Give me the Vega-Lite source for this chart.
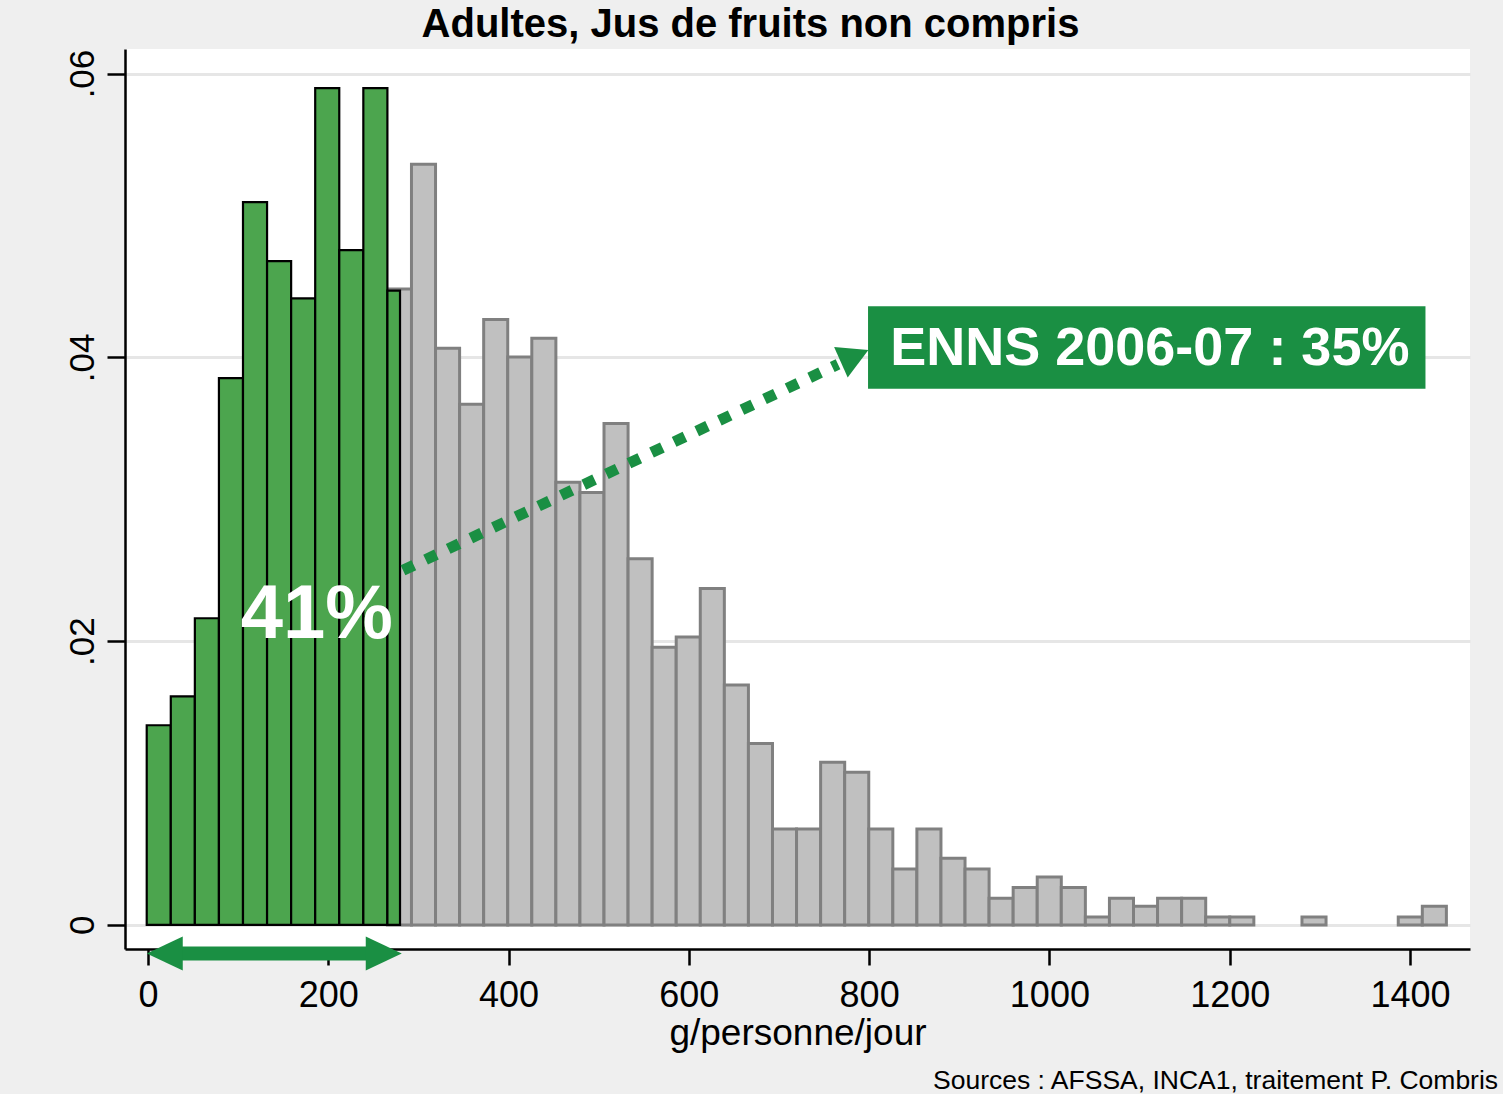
{
  "$schema": "https://vega.github.io/schema/vega-lite/v6.json",
  "width": 1345,
  "height": 900,
  "autosize": {"type": "none"},
  "padding": {"left": 125, "top": 49, "right": 33, "bottom": 145},
  "background": "#efefef",
  "config": {
    "view": {"fill": "white", "stroke": null},
    "font": "Liberation Sans"
  },
  "title": {
    "text": "Adultes, Jus de fruits non compris",
    "font": "Liberation Sans",
    "fontSize": 40,
    "fontWeight": "bold",
    "color": "black",
    "anchor": "middle",
    "frame": "group",
    "dx": -47,
    "offset": 4
  },
  "datasets": {
    "gray": [
      {"lo": 265.6, "hi": 292.3, "d": 0.04482},
      {"lo": 292.3, "hi": 319.0, "d": 0.0536},
      {"lo": 319.0, "hi": 345.7, "d": 0.04064},
      {"lo": 345.7, "hi": 372.4, "d": 0.03669},
      {"lo": 372.4, "hi": 399.1, "d": 0.04266},
      {"lo": 399.1, "hi": 425.8, "d": 0.04003},
      {"lo": 425.8, "hi": 452.5, "d": 0.04134},
      {"lo": 452.5, "hi": 479.2, "d": 0.03119},
      {"lo": 479.2, "hi": 505.9, "d": 0.03048},
      {"lo": 505.9, "hi": 532.6, "d": 0.03533},
      {"lo": 532.6, "hi": 559.3, "d": 0.02581},
      {"lo": 559.3, "hi": 586.0, "d": 0.01957},
      {"lo": 586.0, "hi": 612.7, "d": 0.02029},
      {"lo": 612.7, "hi": 639.4, "d": 0.0237},
      {"lo": 639.4, "hi": 666.1, "d": 0.01691},
      {"lo": 666.1, "hi": 692.8, "d": 0.01278},
      {"lo": 692.8, "hi": 719.5, "d": 0.00676},
      {"lo": 719.5, "hi": 746.2, "d": 0.00676},
      {"lo": 746.2, "hi": 772.9, "d": 0.01146},
      {"lo": 772.9, "hi": 799.6, "d": 0.01076},
      {"lo": 799.6, "hi": 826.3, "d": 0.00676},
      {"lo": 826.3, "hi": 853.0, "d": 0.00394},
      {"lo": 853.0, "hi": 879.7, "d": 0.00676},
      {"lo": 879.7, "hi": 906.4, "d": 0.00469},
      {"lo": 906.4, "hi": 933.1, "d": 0.00394},
      {"lo": 933.1, "hi": 959.8, "d": 0.00187},
      {"lo": 959.8, "hi": 986.5, "d": 0.00263},
      {"lo": 986.5, "hi": 1013.2, "d": 0.00338},
      {"lo": 1013.2, "hi": 1039.9, "d": 0.00263},
      {"lo": 1039.9, "hi": 1066.6, "d": 0.00056},
      {"lo": 1066.6, "hi": 1093.3, "d": 0.00187},
      {"lo": 1093.3, "hi": 1120.0, "d": 0.00131},
      {"lo": 1120.0, "hi": 1146.7, "d": 0.00187},
      {"lo": 1146.7, "hi": 1173.4, "d": 0.00187},
      {"lo": 1173.4, "hi": 1200.1, "d": 0.00056},
      {"lo": 1200.1, "hi": 1226.8, "d": 0.00056},
      {"lo": 1280.2, "hi": 1306.9, "d": 0.00056},
      {"lo": 1387.0, "hi": 1413.7, "d": 0.00056},
      {"lo": 1413.7, "hi": 1440.4, "d": 0.00131}
    ],
    "green": [
      {"lo": -1.4, "hi": 25.3, "d": 0.01407},
      {"lo": 25.3, "hi": 52.0, "d": 0.01611},
      {"lo": 52.0, "hi": 78.7, "d": 0.02161},
      {"lo": 78.7, "hi": 105.4, "d": 0.03853},
      {"lo": 105.4, "hi": 132.1, "d": 0.05094},
      {"lo": 132.1, "hi": 158.8, "d": 0.04678},
      {"lo": 158.8, "hi": 185.5, "d": 0.04416},
      {"lo": 185.5, "hi": 212.2, "d": 0.05897},
      {"lo": 212.2, "hi": 238.9, "d": 0.04755},
      {"lo": 238.9, "hi": 265.6, "d": 0.05897},
      {"lo": 265.6, "hi": 279.6, "d": 0.0447}
    ]
  },
  "layer": [
    {
      "data": {"name": "gray"},
      "mark": {"type": "bar", "fill": "#c0c0c0", "stroke": "#808080", "strokeWidth": 3},
      "encoding": {
        "x": {
          "field": "lo", "type": "quantitative",
          "scale": {"domain": [-25.5, 1466.6], "nice": false, "zero": false},
          "axis": {
            "values": [0, 200, 400, 600, 800, 1000, 1200, 1400],
            "format": "d",
            "title": "g/personne/jour",
            "titleFont": "Liberation Sans",
            "titleFontSize": 37,
            "titleFontWeight": "normal",
            "titleColor": "black",
            "titlePadding": 2,
            "labelFont": "Liberation Sans",
            "labelFontSize": 36,
            "labelColor": "black",
            "labelPadding": 13,
            "labelFlush": false,
            "labelOverlap": false,
            "tickSize": 16,
            "tickWidth": 2.5,
            "tickColor": "black",
            "domainColor": "black",
            "domainWidth": 2.5,
            "grid": false
          }
        },
        "x2": {"field": "hi"},
        "y": {
          "field": "d", "type": "quantitative", "stack": null,
          "scale": {"domain": [-0.0017, 0.06173], "nice": false, "zero": false},
          "axis": {
            "values": [0, 0.02, 0.04, 0.06],
            "labelExpr": "datum.value == 0 ? '0' : replace(format(datum.value, '.2f'), '0.', '.')",
            "title": null,
            "labelFont": "Liberation Sans",
            "labelFontSize": 35,
            "labelColor": "black",
            "labelAngle": -90,
            "labelAlign": "center",
            "labelBaseline": "alphabetic",
            "labelPadding": 14,
            "labelFlush": false,
            "labelOverlap": false,
            "tickSize": 18,
            "tickWidth": 2.5,
            "tickColor": "black",
            "domainColor": "black",
            "domainWidth": 2.5,
            "grid": true,
            "gridColor": "#e6e6e6",
            "gridWidth": 3
          }
        },
        "y2": {"datum": 0}
      }
    },
    {
      "data": {"name": "green"},
      "mark": {"type": "bar", "fill": "#4ca54e", "stroke": "black", "strokeWidth": 2.2},
      "encoding": {
        "x": {"field": "lo", "type": "quantitative"},
        "x2": {"field": "hi"},
        "y": {"field": "d", "type": "quantitative", "stack": null},
        "y2": {"datum": 0}
      }
    },
    {
      "data": {"values": [{"x": 187.2, "y": 0.02025, "t": "41%"}]},
      "mark": {"type": "text", "font": "Liberation Sans", "fontSize": 76, "fontWeight": "bold", "color": "white", "align": "center", "baseline": "alphabetic"},
      "encoding": {
        "x": {"field": "x", "type": "quantitative"},
        "y": {"field": "y", "type": "quantitative"},
        "text": {"field": "t"}
      }
    },
    {
      "data": {"values": [{"x": 282.9, "y": 0.02499, "x2": 765.5, "y2": 0.03951}]},
      "mark": {"type": "rule", "color": "#1a8f43", "strokeWidth": 11, "strokeDash": [12, 13], "strokeCap": "butt"},
      "encoding": {
        "x": {"field": "x", "type": "quantitative"},
        "y": {"field": "y", "type": "quantitative"},
        "x2": {"field": "x2"},
        "y2": {"field": "y2"}
      }
    },
    {
      "data": {"values": [{"x": 768.7, "y": 0.03966}]},
      "mark": {"type": "point", "shape": "M0,-1L1.8,0L0,1Z", "angle": 336, "size": 1116, "filled": true, "color": "#1a8f43", "opacity": 1, "strokeWidth": 0},
      "encoding": {
        "x": {"field": "x", "type": "quantitative"},
        "y": {"field": "y", "type": "quantitative"}
      }
    },
    {
      "data": {"values": [{"x": 798.8, "x2": 1417.2, "y": 0.0436, "y2": 0.03779}]},
      "mark": {"type": "rect", "color": "#1a8f43"},
      "encoding": {
        "x": {"field": "x", "type": "quantitative"},
        "x2": {"field": "x2"},
        "y": {"field": "y", "type": "quantitative"},
        "y2": {"field": "y2"}
      }
    },
    {
      "data": {"values": [{"x": 1111.4, "y": 0.03944, "t": "ENNS 2006-07 : 35%"}]},
      "mark": {"type": "text", "font": "Liberation Sans", "fontSize": 54, "fontWeight": "bold", "color": "white", "align": "center", "baseline": "alphabetic"},
      "encoding": {
        "x": {"field": "x", "type": "quantitative"},
        "y": {"field": "y", "type": "quantitative"},
        "text": {"field": "t"}
      }
    },
    {
      "data": {"values": [{"x": 20, "x2": 262, "y": -0.00202}]},
      "mark": {"type": "rule", "color": "#1a8f43", "strokeWidth": 14, "strokeCap": "butt"},
      "encoding": {
        "x": {"field": "x", "type": "quantitative"},
        "x2": {"field": "x2"},
        "y": {"field": "y", "type": "quantitative"}
      }
    },
    {
      "data": {"values": [{"x": -1.4, "y": -0.00202}]},
      "mark": {"type": "point", "shape": "M0,0L2,-0.944L2,0.944Z", "size": 1296, "filled": true, "color": "#1a8f43", "opacity": 1, "strokeWidth": 0},
      "encoding": {
        "x": {"field": "x", "type": "quantitative"},
        "y": {"field": "y", "type": "quantitative"}
      }
    },
    {
      "data": {"values": [{"x": 281.5, "y": -0.00202}]},
      "mark": {"type": "point", "shape": "M0,0L-2,-0.944L-2,0.944Z", "size": 1296, "filled": true, "color": "#1a8f43", "opacity": 1, "strokeWidth": 0},
      "encoding": {
        "x": {"field": "x", "type": "quantitative"},
        "y": {"field": "y", "type": "quantitative"}
      }
    },
    {
      "data": {"values": [{"x": 870.9, "y": -0.01159, "t": "Sources : AFSSA, INCA1, traitement P. Combris"}]},
      "mark": {"type": "text", "font": "Liberation Sans", "fontSize": 26.5, "color": "black", "align": "left", "baseline": "alphabetic"},
      "encoding": {
        "x": {"field": "x", "type": "quantitative"},
        "y": {"field": "y", "type": "quantitative"},
        "text": {"field": "t"}
      }
    }
  ]
}
